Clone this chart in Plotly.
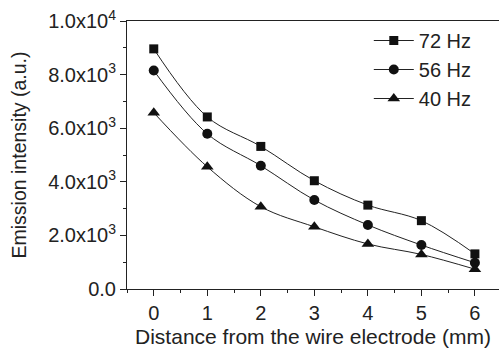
import plotly.graph_objects as go

distance = [0, 1, 2, 3, 4, 5, 6]
hz72 = [8960, 6420, 5320, 4040, 3130, 2550, 1310]
hz56 = [8150, 5790, 4600, 3320, 2390, 1640, 980]
hz40 = [6580, 4560, 3070, 2320, 1680, 1290, 740]

series = [("72 Hz", hz72, "square", 9), ("56 Hz", hz56, "circle", 10), ("40 Hz", hz40, "triangle-up", 11)]

ytick_vals = [0, 2000, 4000, 6000, 8000, 10000]
ytick_text = ["0.0", "2.0x10<sup>3</sup>", "4.0x10<sup>3</sup>", "6.0x10<sup>3</sup>",
              "8.0x10<sup>3</sup>", "1.0x10<sup>4</sup>"]

fig = go.Figure()
for name, vals, sym, sz in series:
    fig.add_trace(go.Scatter(
        x=distance, y=vals, name=name, mode="lines+markers",
        line=dict(color="#222222", width=1, shape="spline", smoothing=1.0),
        marker=dict(symbol=sym, size=sz, color="#111111"),
    ))

font = "Liberation Sans, Arial, sans-serif"
fig.update_layout(
    width=499, height=349,
    margin=dict(l=127, r=0, t=21, b=60),
    paper_bgcolor="white", plot_bgcolor="white",
    font=dict(family=font, size=20, color="#222222"),
    showlegend=True,
    legend=dict(x=0.65, y=1.0, xanchor="left", yanchor="top",
                bgcolor="rgba(0,0,0,0)", font=dict(size=20),
                itemwidth=40, tracegroupgap=0),
    xaxis=dict(range=[-0.5, 6.45], tickvals=distance, ticks="outside",
               ticklen=6, tickwidth=1, tickcolor="#222222",
               showline=True, linecolor="#222222", linewidth=1, mirror=True,
               showgrid=False, zeroline=False, automargin=False,
               minor=dict(dtick=0.5, tick0=0.5, ticks="outside", ticklen=3, tickcolor="#222222"),
               title=dict(text="Distance from the wire electrode (mm)", font=dict(size=21), standoff=6),
               tickfont=dict(size=20)),
    yaxis=dict(range=[0, 10000], tickvals=ytick_vals, ticktext=ytick_text, ticks="outside",
               ticklen=6, tickwidth=1, tickcolor="#222222",
               showline=True, linecolor="#222222", linewidth=1, mirror=False,
               showgrid=False, zeroline=False, automargin=False,
               minor=dict(dtick=1000, tick0=1000, ticks="outside", ticklen=3, tickcolor="#222222"),
               title=dict(text="Emission intensity (a.u.)", font=dict(size=19.5), standoff=16),
               tickfont=dict(size=20)),
)

fig.write_html("out.html", config={"displayModeBar": False},
               post_script="document.body.style.margin='0';document.body.style.padding='0';")
